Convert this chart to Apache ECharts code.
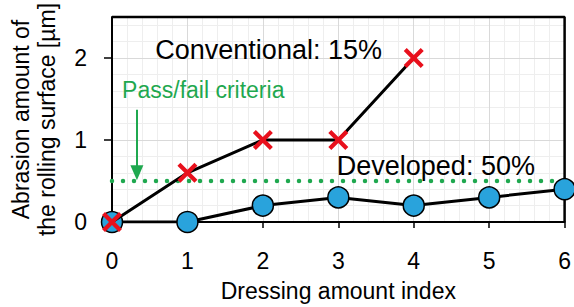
<!DOCTYPE html>
<html><head><meta charset="utf-8">
<script src="https://cdn.jsdelivr.net/npm/echarts@6/dist/echarts.min.js"></script>
<style>html,body{margin:0;padding:0;background:#fff}#c{width:574px;height:307px}</style>
</head><body><div id="c"></div>
<script>
const xConventional = [0, 1, 2, 3, 4];
const yConventional = [0, 0.6, 1, 1, 2];
const xDeveloped = [0, 1, 2, 3, 4, 5, 6];
const yDeveloped = [0, 0, 0.2, 0.3, 0.2, 0.3, 0.4];
const criteria = 0.5;
const arrowX = 0.33, arrowTop = 1.37, arrowTip = 0.6;
const xMax = 6, yMax = 2.5;
const labelConventional = 'Conventional: 15%';
const labelDeveloped = 'Developed: 50%';
const labelCriteria = 'Pass/fail criteria';
const xName = 'Dressing amount index';
const yName = 'Abrasion amount of\nthe rolling surface [\u00b5m]';

const FONT = '"Liberation Sans", Arial, sans-serif';
const GREEN = '#1fa84f', RED = '#e8101c', BLUE = '#29a3dc';
const crossPath = 'path://M1.5,0 L5,3.5 L8.5,0 L10,1.5 L6.5,5 L10,8.5 L8.5,10 L5,6.5 L1.5,10 L0,8.5 L3.5,5 L0,1.5 Z';

const chart = echarts.init(document.getElementById('c'), null, {renderer: 'svg'});
const minorAxis = (extra) => Object.assign({type:'value', z:0,
  axisLine:{show:false}, axisTick:{show:false}, axisLabel:{show:false},
  splitLine:{show:true, lineStyle:{color:'#eeeeee', width:1}}}, extra);
chart.setOption({
  animation: false,
  grid: {left: 108, right: 7, top: 17, bottom: 84, show: false},
  xAxis: [
    {type:'value', min:0, max:xMax, interval:1, position:'bottom', z:1,
     name: xName, nameLocation:'middle', nameGap:57,
     nameTextStyle:{fontFamily:FONT, fontSize:23, color:'#000'},
     axisLine:{show:true, onZero:false, lineStyle:{color:'#000', width:2}},
     axisTick:{show:true, inside:false, length:6, lineStyle:{color:'#000', width:1.5}},
     axisLabel:{fontFamily:FONT, fontSize:23, color:'#000', margin:27},
     splitLine:{show:true, lineStyle:{color:'#d9d9d9', width:1}}},
    minorAxis({min:0, max:xMax, interval:0.2, position:'top'})
  ],
  yAxis: [
    {type:'value', min:0, max:yMax, interval:1, position:'left', z:1,
     name: yName, nameLocation:'middle', nameGap:52, nameRotate:90,
     nameTextStyle:{fontFamily:FONT, fontSize:23, color:'#000', lineHeight:26},
     axisLine:{show:true, onZero:false, lineStyle:{color:'#000', width:2}},
     axisTick:{show:true, inside:false, length:8, lineStyle:{color:'#000', width:1.5}},
     axisLabel:{fontFamily:FONT, fontSize:23, color:'#000', margin:25, showMaxLabel:false},
     splitLine:{show:true, lineStyle:{color:'#d9d9d9', width:1}}},
    minorAxis({min:0, max:yMax, interval:0.2, position:'right'})
  ],
  series: [
    {type:'line', xAxisIndex:0, yAxisIndex:0, data: [[0, criteria],[xMax, criteria]], symbol:'none',
     lineStyle:{color:GREEN, width:4.5, type:[0, 11], cap:'round'}, z:2,
     markLine:{silent:true, symbol:['none','triangle'], symbolSize:[13,15], label:{show:false},
       lineStyle:{color:GREEN, width:2, type:'solid'},
       data:[[{coord:[arrowX, arrowTop]},{coord:[arrowX, arrowTip]}]]}},
    {type:'line', xAxisIndex:0, yAxisIndex:0, data: [[0, yMax],[xMax, yMax],[xMax, 0]], symbol:'none', clip:false, z:5,
     lineStyle:{color:'#000000', width:2.5}},
    {type:'line', xAxisIndex:0, yAxisIndex:0, data: xDeveloped.map((x,i)=>[x, yDeveloped[i]]),
     symbol:'circle', symbolSize:21, lineStyle:{color:'#000', width:3},
     itemStyle:{color:BLUE, borderColor:'#000', borderWidth:1.5}, z:6},
    {type:'line', xAxisIndex:0, yAxisIndex:0, data: xConventional.map((x,i)=>[x, yConventional[i]]),
     symbol:crossPath, symbolSize:20, lineStyle:{color:'#000', width:3},
     itemStyle:{color:RED, borderWidth:0}, z:7}
  ]
});
function px(x, y){ return chart.convertToPixel({xAxisIndex:0, yAxisIndex:0}, [x, y]); }
const pC = px(0.574, 2.1), pP = px(0.134, 1.61), pD = px(2.98, 0.68);
chart.setOption({graphic: [
  {type:'text', x:pC[0], y:pC[1], z:10, style:{text:labelConventional, fontFamily:FONT, fontSize:27, fill:'#000', verticalAlign:'middle', align:'left'}},
  {type:'text', x:pP[0], y:pP[1], z:10, style:{text:labelCriteria, fontFamily:FONT, fontSize:23, fill:GREEN, verticalAlign:'middle', align:'left'}},
  {type:'text', x:pD[0], y:pD[1], z:10, style:{text:labelDeveloped, fontFamily:FONT, fontSize:27, fill:'#000', verticalAlign:'middle', align:'left'}}
]});
</script></body></html>
